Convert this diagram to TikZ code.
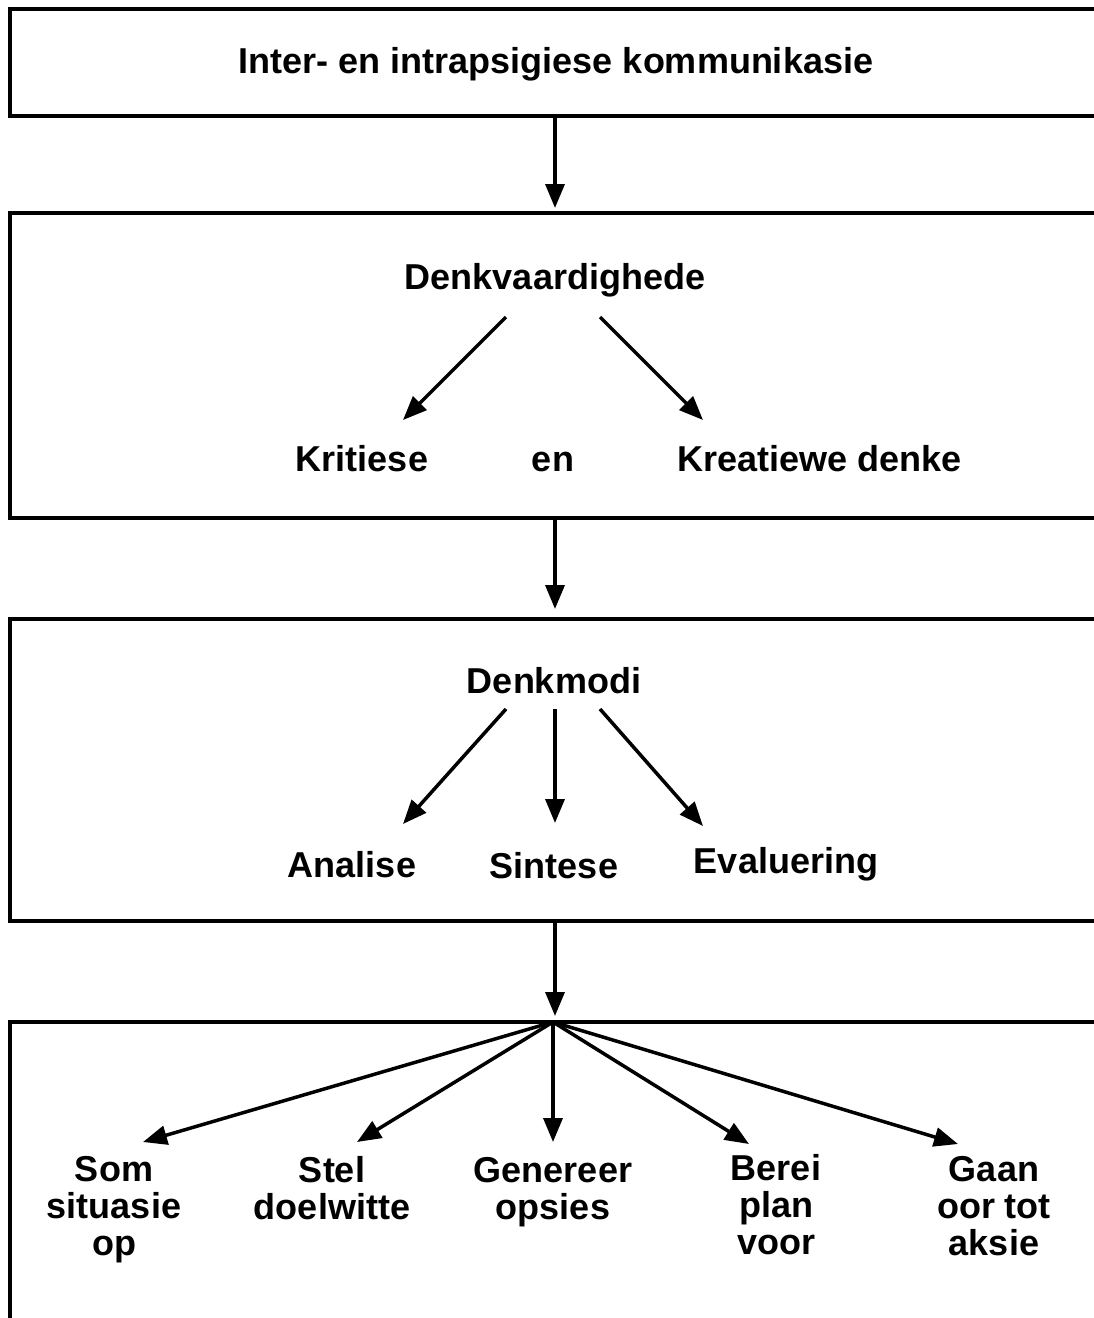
\documentclass[tikz,border=0pt]{standalone}
\usepackage{fontspec}
\setmainfont{Liberation Sans}
\usetikzlibrary{arrows.meta}
\begin{document}
\begin{tikzpicture}[x=1pt,y=-1pt,
  lbl/.style={font=\fontsize{36}{37}\selectfont\bfseries, inner sep=0pt, anchor=base, align=center},
  boxline/.style={line width=4pt, line join=miter},
  arr/.style={line width=3.5pt, -{Triangle[length=24pt,width=19pt]}}]
\useasboundingbox[fill=white] (0,0) rectangle (1094,1318);
% boxes (open on the right, last one open at the bottom)
\draw[boxline] (1110,9) -- (10,9) -- (10,116) -- (1110,116);
\draw[boxline] (1110,213) -- (10,213) -- (10,518) -- (1110,518);
\draw[boxline] (1110,619) -- (10,619) -- (10,921) -- (1110,921);
\draw[boxline] (1110,1022) -- (10,1022) -- (10,1330);
% named points on box edges
\coordinate (b1s) at (555,116);
\coordinate (b2n) at (555,208);
\coordinate (b2s) at (555,518);
\coordinate (b3n) at (555,609);
\coordinate (b3s) at (555,921);
\coordinate (b4n) at (555,1016);
\coordinate (hub) at (553,1022);
% texts (anchor base = baseline of the last line)
\node[lbl] (title) at (556,73) {Inter- en intrapsigiese kommunikasie};
\node[lbl] (denkv) at (555,289) {Denkvaardighede};
\node[lbl] (krit) at (362,471) {Kritiese};
\node[lbl] (en) at (553,471) {en};
\node[lbl] (kreat) at (820,471) {Kreatiewe denke};
\node[lbl] (denkm) at (554,693) {Denkmodi};
\node[lbl] (anal) at (352,877) {Analise};
\node[lbl] (sint) at (554,878) {Sintese};
\node[lbl] (eval) at (786,873) {Evaluering};
\node[lbl] (som) at (114,1255) {Som\\situasie\\op};
\node[lbl] (stel) at (332,1219) {Stel\\doelwitte};
\node[lbl] (gen) at (553,1219) {Genereer\\opsies};
\node[lbl] (berei) at (776,1254) {Berei\\plan\\voor};
\node[lbl] (gaan) at (994,1255) {Gaan\\oor tot\\aksie};
% arrow end points
\coordinate (dvL) at (506,317); \coordinate (dvR) at (600,317);
\coordinate (kritT) at (403,420); \coordinate (kreatT) at (703,420);
\coordinate (dmL) at (506,709); \coordinate (dmM) at (555,709); \coordinate (dmR) at (600,709);
\coordinate (analT) at (403,824); \coordinate (sintT) at (555,823); \coordinate (evalT) at (703,826);
\coordinate (somT) at (143,1142); \coordinate (stelT) at (357,1142);
\coordinate (genT) at (553,1142); \coordinate (bereiT) at (749,1144);
\coordinate (gaanT) at (958,1144);
% connectors
\draw[arr] (b1s) -- (b2n);
\draw[arr] (b2s) -- (b3n);
\draw[arr] (b3s) -- (b4n);
\draw[arr] (dvL) -- (kritT);
\draw[arr] (dvR) -- (kreatT);
\draw[arr] (dmL) -- (analT);
\draw[arr] (dmM) -- (sintT);
\draw[arr] (dmR) -- (evalT);
\draw[arr] (hub) -- (somT);
\draw[arr] (hub) -- (stelT);
\draw[arr] (hub) -- (genT);
\draw[arr] (hub) -- (bereiT);
\draw[arr] (hub) -- (gaanT);
\end{tikzpicture}
\end{document}
